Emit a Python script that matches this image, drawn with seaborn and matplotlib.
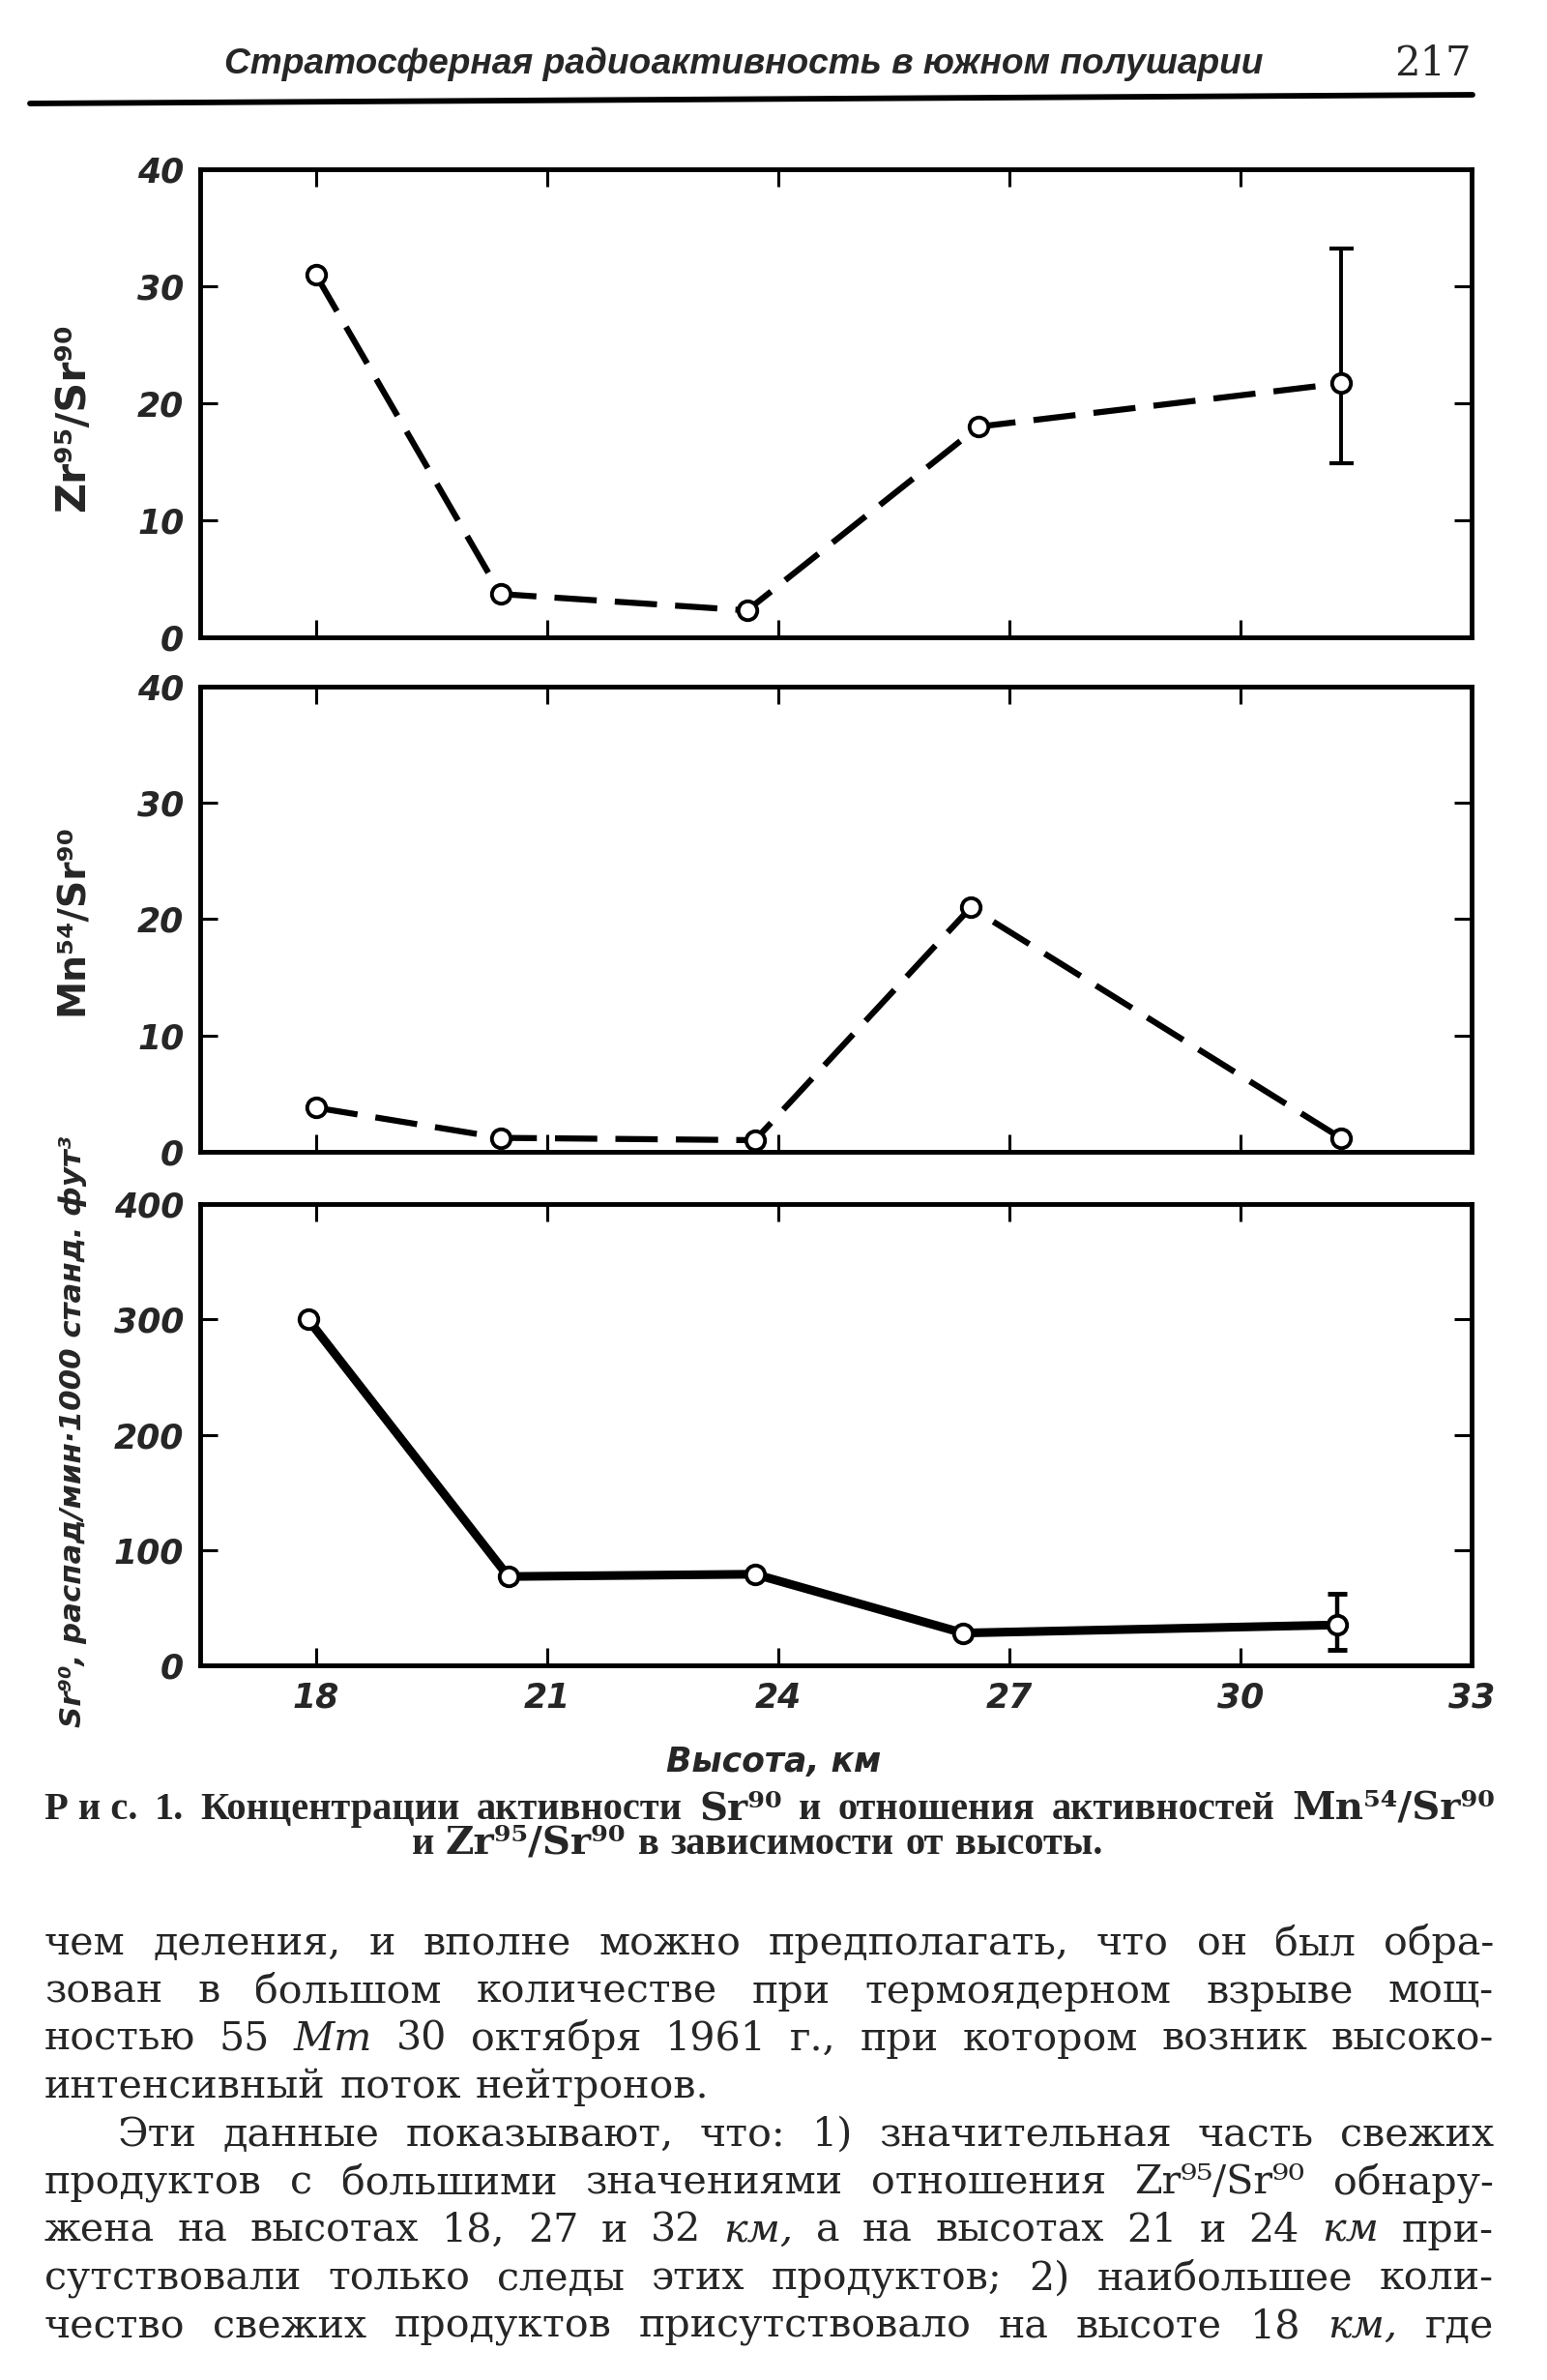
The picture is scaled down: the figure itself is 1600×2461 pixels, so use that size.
import matplotlib
matplotlib.use("Agg")
import matplotlib.pyplot as plt
from matplotlib.lines import Line2D
import seaborn as sns

# ---- data ----
alt_ticks = [18, 21, 24, 27, 30, 33]

alt_zr = [18.0, 20.4, 23.6, 26.6, 31.3]
zr_sr = [31.0, 3.7, 2.3, 18.0, 21.7]
zr_err_low = [14.9]     # error bar of the last point
zr_err_high = [33.2]

alt_mn = [18.0, 20.4, 23.7, 26.5, 31.3]
mn_sr = [3.8, 1.2, 1.0, 21.0, 1.2]

alt_sr = [17.9, 20.5, 23.7, 26.4, 31.25]
sr90 = [300, 77, 79, 28, 35]
sr_err_low = [13]
sr_err_high = [62]

ratio_ticks = [0, 10, 20, 30, 40]
sr_ticks = [0, 100, 200, 300, 400]

header = "Стратосферная радиоактивность в южном полушарии"
page_no = "217"
xlabel = "Высота, км"
ylab_zr = "Zr⁹⁵/Sr⁹⁰"
ylab_mn = "Mn⁵⁴/Sr⁹⁰"
ylab_sr = "Sr⁹⁰, распад/мин·1000 станд. фут³"

caption1 = ["Р и с.", "1.", "Концентрации", "активности", "Sr⁹⁰", "и",
            "отношения", "активностей", "Mn⁵⁴/Sr⁹⁰"]
caption2 = ["и", "Zr⁹⁵/Sr⁹⁰", "в", "зависимости", "от", "высоты."]

body = [
    "чем деления, и вполне можно предполагать, что он был обра-",
    "зован в большом количестве при термоядерном взрыве мощ-",
    "ностью 55 Мт 30 октября 1961 г., при котором возник высоко-",
    "интенсивный поток нейтронов.",
    "Эти данные показывают, что: 1) значительная часть свежих",
    "продуктов с большими значениями отношения Zr⁹⁵/Sr⁹⁰ обнару-",
    "жена на высотах 18, 27 и 32 км, а на высотах 21 и 24 км при-",
    "сутствовали только следы этих продуктов; 2) наибольшее коли-",
    "чество свежих продуктов присутствовало на высоте 18 км, где",
]
italic_words = {"Мт", "км", "км,"}
SUPS = set("⁰¹²³⁴⁵⁶⁷⁸⁹")

W, H = 1600, 2461

sns.set_style("white", rc={"axes.edgecolor": "black", "axes.linewidth": 3.5})
plt.rcParams["font.family"] = ["DejaVu Sans"]

fig = plt.figure(figsize=(16, 24.61), dpi=100)
fig.patch.set_facecolor("white")


def px_box(left, top, right, bottom):
    return [left / W, 1 - bottom / H, (right - left) / W, (bottom - top) / H]


def style_axes(ax, yticks, ylim, show_x):
    ax.set_xlim(16.5, 33)
    ax.set_ylim(*ylim)
    ax.set_xticks(alt_ticks, [str(t) for t in alt_ticks], fontstyle="italic",
                  fontweight="bold", fontsize=25)
    ax.set_yticks(yticks, [str(t) for t in yticks], fontstyle="italic",
                  fontweight="bold", fontsize=25)
    ax.tick_params(axis="both", direction="in", length=13, width=2.2, color="black",
                   top=True, right=True, bottom=True, left=True,
                   labelbottom=show_x, pad=12)
    for s in ax.spines.values():
        s.set_linewidth(3.5)
        s.set_color("black")
    ax.set_xlabel("")
    ax.set_ylabel("")


mk = dict(marker="o", markersize=14, markerfacecolor="white",
          markeredgecolor="black", markeredgewidth=2.8)

ax1 = fig.add_axes(px_box(207, 175, 1522, 659))
sns.lineplot(x=alt_zr, y=zr_sr, ax=ax1, color="black", linewidth=4.5,
             linestyle=(0, (7, 3)), zorder=3, **mk)
ax1.errorbar([alt_zr[-1]], [zr_sr[-1]],
             yerr=[[zr_sr[-1] - zr_err_low[0]], [zr_err_high[0] - zr_sr[-1]]],
             fmt="none", ecolor="black", elinewidth=2.8, capsize=9, capthick=3, zorder=2)
style_axes(ax1, ratio_ticks, (0, 40), False)

ax2 = fig.add_axes(px_box(207, 710, 1522, 1191))
sns.lineplot(x=alt_mn, y=mn_sr, ax=ax2, color="black", linewidth=4.5,
             linestyle=(0, (7, 3)), zorder=3, **mk)
style_axes(ax2, ratio_ticks, (0, 40), False)

ax3 = fig.add_axes(px_box(207, 1245, 1522, 1722))
sns.lineplot(x=alt_sr, y=sr90, ax=ax3, color="black", linewidth=6.5,
             zorder=3, **mk)
ax3.errorbar([alt_sr[-1]], [sr90[-1]],
             yerr=[[sr90[-1] - sr_err_low[0]], [sr_err_high[0] - sr90[-1]]],
             fmt="none", ecolor="black", elinewidth=3.2, capsize=7.5, capthick=3.5, zorder=2)
style_axes(ax3, sr_ticks, (0, 400), True)

renderer = fig.canvas.get_renderer()


def fit(t, target, vertical=False):
    bb = t.get_window_extent(renderer)
    cur = bb.height if vertical else bb.width
    t.set_fontsize(t.get_fontsize() * target / cur)


def make_words(tokens, base_y, size, family, weight):
    objs = []
    for w in tokens:
        st = "italic" if w in italic_words else "normal"
        fam = ["DejaVu Serif"] if SUPS & set(w) else family
        objs.append(fig.text(0, 1 - base_y / H, w, fontsize=size, family=fam,
                             weight=weight, style=st, ha="left", va="baseline"))
    widths = [o.get_window_extent(renderer).width for o in objs]
    return objs, widths


def place_line(tokens, x0, x1, base_y, size, family, weight="normal"):
    objs, widths = make_words(tokens, base_y, size, family, weight)
    gap = (x1 - x0 - sum(widths)) / max(len(objs) - 1, 1)
    x = x0
    for o, w in zip(objs, widths):
        o.set_x(x / W)
        x += w + gap


def center_line(tokens, xc, base_y, size, family, weight="normal"):
    objs, widths = make_words(tokens, base_y, size, family, weight)
    gap = 0.3 * size * 100 / 72
    x = xc - (sum(widths) + gap * (len(objs) - 1)) / 2
    for o, w in zip(objs, widths):
        o.set_x(x / W)
        x += w + gap


# header and rule
t = fig.text(232 / W, 1 - 76 / H, header, ha="left", va="baseline",
             fontsize=30, style="italic", weight="bold",
             family=["Liberation Sans", "DejaVu Sans"])
fit(t, 1072)
fig.text(1522 / W, 1 - 78 / H, page_no, ha="right", va="baseline",
         fontsize=30, family="DejaVu Serif")
fig.add_artist(Line2D([31 / W, 1523 / W], [1 - 107 / H, 1 - 98 / H],
                      color="black", linewidth=4.2))

# axis labels
t = fig.text(75 / W, 1 - 432 / H, ylab_zr, rotation=90, ha="center", va="center",
             fontsize=28, weight="bold")
fit(t, 195, vertical=True)
t = fig.text(75 / W, 1 - 951 / H, ylab_mn, rotation=90, ha="center", va="center",
             fontsize=28, weight="bold")
fit(t, 198, vertical=True)
t = fig.text(75 / W, 1 - 1480 / H, ylab_sr, rotation=90, ha="center", va="center",
             fontsize=26, style="italic", weight="bold")
fit(t, 612, vertical=True)
t = fig.text(800 / W, 1 - 1822 / H, xlabel, ha="center", va="center",
             fontsize=28, style="italic", weight="bold")
fit(t, 222)

# caption
cap_font = ["Liberation Serif", "DejaVu Serif"]
probe = fig.text(0, 0, "и Zr95/Sr90 в зависимости от высоты.", fontsize=23,
                 family=cap_font, weight="bold")
fit(probe, 699)
cap_size = probe.get_fontsize()
probe.remove()
place_line(caption1, 46, 1546, 1881, cap_size, cap_font, weight="bold")
center_line(caption2, 783, 1917, cap_size, cap_font, weight="bold")

# body text: size taken from the short, unstretched fourth line
serif = ["DejaVu Serif"]
probe = fig.text(0, 0, body[3], fontsize=24, family=serif)
fit(probe, 687)
body_size = probe.get_fontsize()
probe.remove()
for i, line in enumerate(body):
    base = 2021 + i * 49.5
    x0 = 122 if i == 4 else 46
    x1 = 733 if i == 3 else 1545
    place_line(line.split(" "), x0, x1, base, body_size, serif)

fig.savefig("out.png", dpi=100, facecolor="white")
